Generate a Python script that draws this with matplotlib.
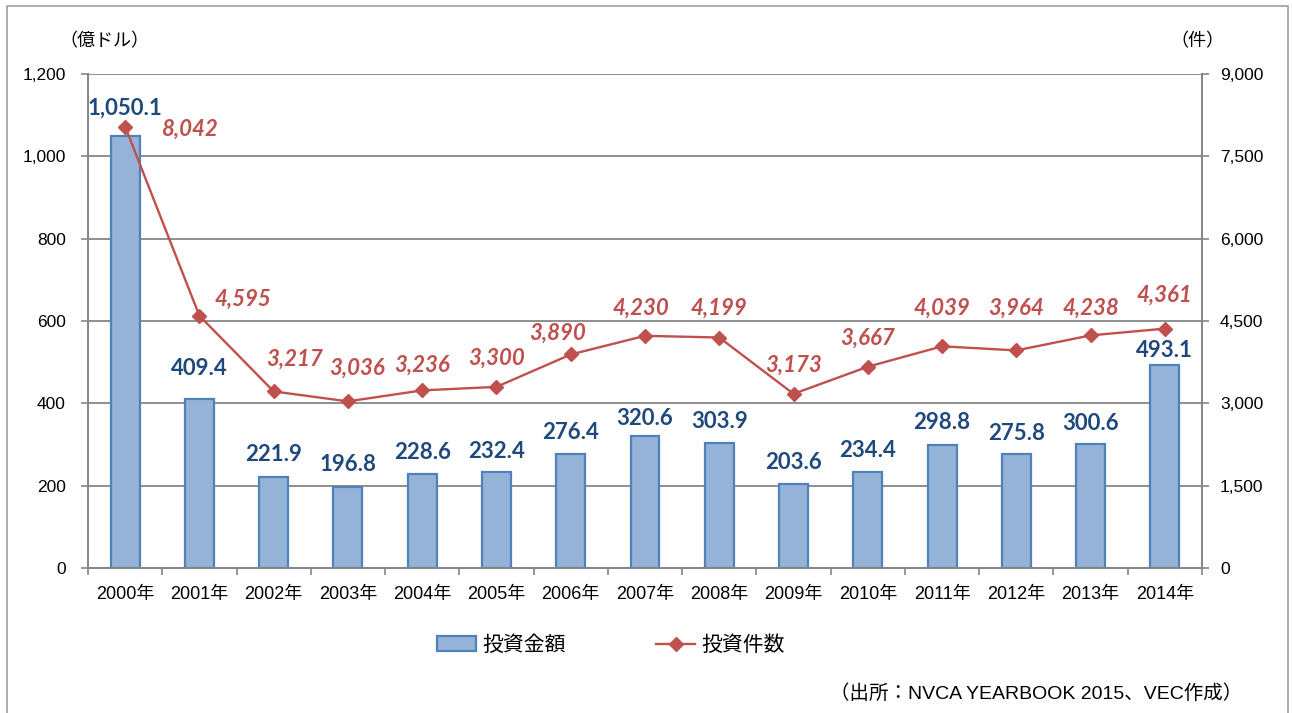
import numpy as np
import matplotlib.pyplot as plt
from matplotlib.patches import Rectangle
from matplotlib.lines import Line2D

# data
years = ["2000年", "2001年", "2002年", "2003年", "2004年", "2005年", "2006年", "2007年",
         "2008年", "2009年", "2010年", "2011年", "2012年", "2013年", "2014年"]
amounts = [1050.1, 409.4, 221.9, 196.8, 228.6, 232.4, 276.4, 320.6,
           303.9, 203.6, 234.4, 298.8, 275.8, 300.6, 493.1]
counts = [8042, 4595, 3217, 3036, 3236, 3300, 3890, 4230,
          4199, 3173, 3667, 4039, 3964, 4238, 4361]

left_ticks = [0, 200, 400, 600, 800, 1000, 1200]
right_ticks = [0, 1500, 3000, 4500, 6000, 7500, 9000]

# label offsets in pixels (placement only)
bar_label_dy = [28, 31, 22, 22, 21, 21, 22, 18, 21, 22, 21, 22, 21, 21, 15]
line_label_dx = [64, 44, 21, 9, 0, 0, -13, -4, 0, 0, 0, 0, 0, 0, 0]
line_label_dy = [-3, 17, 32, 33, 25, 29, 21, 28, 29, 29, 29, 38, 42, 27, 33]

BAR_FILL = "#95B3D7"
BAR_EDGE = "#4F81BD"
LINE_COL = "#C0504D"
BLUE_TXT = "#1F497D"
GRID = "#868686"
LATIN = ["Liberation Sans", "Noto Sans CJK JP"]
CJK = ["Noto Sans CJK JP", "DejaVu Sans"]

fig = plt.figure(figsize=(12.92, 7.13), dpi=100)
ax = fig.add_axes([88 / 1292, 1 - 568 / 713, (1202 - 88) / 1292, (568 - 74) / 713])
ax2 = ax.twinx()

x = np.arange(len(years))
ax.bar(x, amounts, width=0.39, color=BAR_FILL, edgecolor=BAR_EDGE, linewidth=1.6, zorder=3)
ax2.plot(x, counts, color=LINE_COL, linewidth=1.7, marker="D", markersize=7.2,
         markeredgecolor=LINE_COL, zorder=4)

ax.set_xlim(-0.5, len(years) - 0.5)
ax.set_ylim(0, 1200)
ax2.set_ylim(0, 9000)

ax.set_yticks(left_ticks)
ax.set_yticklabels([f"{v:,}" for v in left_ticks], family=LATIN, fontsize=12.5)
ax2.set_yticks(right_ticks)
ax2.set_yticklabels([f"{v:,}" for v in right_ticks], family=LATIN, fontsize=12.5)
ax.set_xticks(x)
ax.set_xticklabels(years, family=LATIN, fontsize=13)
ax.set_xticks(np.arange(-0.5, len(years)), minor=True)
ax.tick_params(axis="x", which="major", length=0, pad=13)
ax.tick_params(axis="x", which="minor", length=5, color=GRID, width=1.2)
ax.tick_params(axis="y", length=5, color=GRID, width=1.2, pad=11)
ax2.tick_params(axis="y", length=5, color=GRID, width=1.2, pad=8)

ax.grid(axis="y", color=GRID, linewidth=1.3, zorder=0)
ax.set_axisbelow(True)
for a in (ax, ax2):
    a.spines["top"].set_visible(False)
    for s in ("left", "right", "bottom"):
        a.spines[s].set_color(GRID)
        a.spines[s].set_linewidth(1.3)
ax.patch.set_visible(False)
ax2.set_zorder(ax.get_zorder() + 1)
ax2.patch.set_visible(False)

# bar value labels
for xi, v, dy in zip(x, amounts, bar_label_dy):
    ax2.annotate(f"{v:,.1f}", xy=(xi, v * 9000 / 1200), xytext=(0, dy),
                 textcoords="offset pixels", ha="center", va="center",
                 fontsize=16, fontweight="bold", color=BLUE_TXT, family="Lato")

# line value labels
for xi, v, dx, dy in zip(x, counts, line_label_dx, line_label_dy):
    ax2.annotate(f"{v:,}", xy=(xi, v), xytext=(dx, dy),
                 textcoords="offset pixels", ha="center", va="center",
                 fontsize=16, fontweight="bold", fontstyle="italic",
                 color=LINE_COL, family="Lato")

# unit labels
fig.text(104 / 1292, 1 - 41 / 713, "（億ドル）", family=CJK, fontsize=13,
         ha="center", va="center")
fig.text(1197 / 1292, 1 - 41 / 713, "（件）", family=CJK, fontsize=13,
         ha="center", va="center")

# legend
handles = [Rectangle((0, 0), 1, 1, facecolor=BAR_FILL, edgecolor=BAR_EDGE, linewidth=1.6),
           Line2D([], [], color=LINE_COL, linewidth=1.7, marker="D", markersize=7.2)]
fig.legend(handles, ["投資金額", "投資件数"], loc="center",
           bbox_to_anchor=(611 / 1292, 1 - 645 / 713), ncol=2, frameon=False,
           prop={"family": CJK, "size": 15}, handlelength=1.9, handletextpad=0.3,
           columnspacing=4.3)

# source
fig.text(1242 / 1292, 1 - 694 / 713, "（出所：NVCA YEARBOOK 2015、VEC作成）",
         family=LATIN, fontsize=14, ha="right", va="center")

# outer border
fig.patches.append(Rectangle((7 / 1292, -0.05), (1288 - 7) / 1292, 1.05 - 6 / 713,
                             transform=fig.transFigure, fill=False,
                             edgecolor="#A6A6A6", linewidth=1.3))

plt.savefig("out.png", dpi=100)
